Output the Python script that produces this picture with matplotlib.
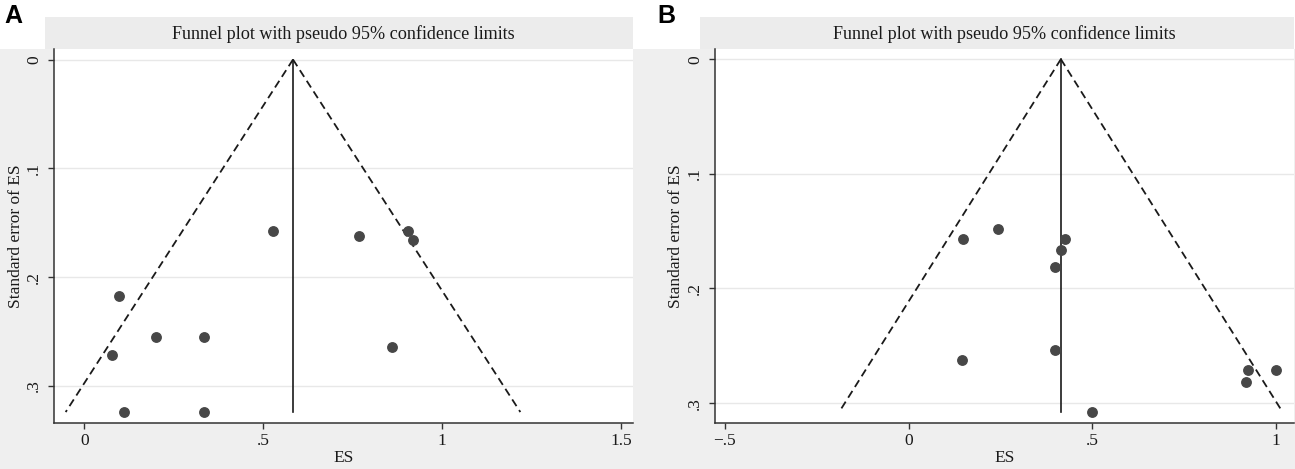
import matplotlib
matplotlib.use("Agg")
import matplotlib.pyplot as plt
from matplotlib.patches import Rectangle
import numpy as np

# ---------------- data ----------------
a_es = [0.526, 0.766, 0.903, 0.919, 0.097, 0.201, 0.334, 0.859, 0.077, 0.111, 0.334]
a_se = [0.158, 0.162, 0.158, 0.166, 0.217, 0.255, 0.255, 0.264, 0.272, 0.324, 0.324]
a_pooled = 0.583

b_es = [0.244, 0.149, 0.424, 0.415, 0.398, 0.398, 0.145, 0.924, 1.000, 0.918, 0.500]
b_se = [0.148, 0.157, 0.157, 0.166, 0.181, 0.254, 0.262, 0.271, 0.271, 0.282, 0.308]
b_pooled = 0.414

a_xticks = [0, 0.5, 1, 1.5]
a_xticklabels = ["0", ".5", "1", "1.5"]
b_xticks = [-0.5, 0, 0.5, 1]
b_xticklabels = ["\u2212.5", "0", ".5", "1"]
yticks = [0, 0.1, 0.2, 0.3]
yticklabels = ["0", ".1", ".2", ".3"]

title = "Funnel plot with pseudo 95% confidence limits"
xlabel = "ES"
ylabel = "Standard error of ES"
panel_labels = ["A", "B"]

# ---------------- layout ----------------
W, H = 1295, 469
BG = "#efefef"
SERIF = "Liberation Serif"

fig = plt.figure(figsize=(W / 100, H / 100), dpi=100)
fig.patch.set_facecolor(BG)


def fx(px):
    return px / W


def fy(py):
    return 1 - py / H


def frect(x0, y0, x1, y1, color):
    fig.add_artist(Rectangle((fx(x0), fy(y1)), fx(x1) - fx(x0), fy(y0) - fy(y1),
                             transform=fig.transFigure, facecolor=color,
                             edgecolor="none", zorder=-5))


# white areas around panel letters
frect(0, 0, W, 17, "white")
frect(0, 0, 45, 49, "white")
frect(633, 0, 700, 49, "white")
frect(1294, 0, W, 49, "white")

panels = [
    dict(es=a_es, se=a_se, pooled=a_pooled, xticks=a_xticks, xtl=a_xticklabels,
         left=54, right=633, xlim=(-0.0846, 1.5327), ylim=(0.3336, -0.0097),
         letter_x=4, title_box=(45, 633), ylab_x=16),
    dict(es=b_es, se=b_se, pooled=b_pooled, xticks=b_xticks, xtl=b_xticklabels,
         left=715, right=1294, xlim=(-0.527, 1.0483), ylim=(0.3169, -0.0089),
         letter_x=657, title_box=(700, 1294), ylab_x=676),
]

top, bottom = 49, 422.5

for i, p in enumerate(panels):
    ax = fig.add_axes([fx(p["left"]), fy(bottom), fx(p["right"]) - fx(p["left"]),
                       fy(top) - fy(bottom)])
    ax.set_facecolor("white")
    ax.set_xlim(*p["xlim"])
    ax.set_ylim(*p["ylim"])

    # grid
    for yt in yticks:
        ax.axhline(yt, color="#e8e8e8", lw=1.0, zorder=0)

    maxse = max(p["se"])
    pooled = p["pooled"]
    se_line = np.array([0.0, maxse])
    ax.plot(pooled - 1.96 * se_line, se_line, color="#1a1a1a", lw=1.3,
            linestyle=(0, (4.4, 2.6)), zorder=2)
    ax.plot(pooled + 1.96 * se_line, se_line, color="#1a1a1a", lw=1.3,
            linestyle=(0, (4.4, 2.6)), zorder=2)
    ax.plot([pooled, pooled], [0, maxse], color="#1a1a1a", lw=1.2, zorder=2)

    ax.plot(p["es"], p["se"], linestyle="none", marker="o", markersize=6.8,
            markerfacecolor="#474747", markeredgecolor="#474747", zorder=3)

    for s in ["top", "right"]:
        ax.spines[s].set_visible(False)
    for s in ["left", "bottom"]:
        ax.spines[s].set_color("#333333")
        ax.spines[s].set_linewidth(1.1)

    ax.set_xticks(p["xticks"])
    ax.set_xticklabels(p["xtl"], fontfamily=SERIF, fontsize=12.5)
    ax.set_yticks(yticks)
    ax.set_yticklabels(yticklabels, fontfamily=SERIF, fontsize=12.5,
                       rotation=90, va="center")
    ax.tick_params(axis="both", direction="out", length=4.5, width=1.0,
                   color="#333333", labelcolor="#1a1a1a")
    ax.tick_params(axis="x", pad=3)
    ax.tick_params(axis="y", pad=4)

    # title box
    tb0, tb1 = p["title_box"]
    frect(tb0, 17, tb1, 49, "#ececec")
    cx = (p["left"] + p["right"]) / 2
    fig.text(fx(cx), fy(34), title, ha="center", va="center",
             fontfamily=SERIF, fontsize=13.1, color="#1a1a1a")

    # axis labels
    fig.text(fx(cx), fy(458), xlabel, ha="center", va="center",
             fontfamily=SERIF, fontsize=12.5, color="#1a1a1a")
    fig.text(fx(p["ylab_x"]), fy((top + bottom) / 2), ylabel, ha="center",
             va="center", rotation=90, fontfamily=SERIF, fontsize=12.5,
             color="#1a1a1a")

    # panel letter
    fig.text(fx(p["letter_x"]), fy(16), panel_labels[i], ha="left", va="center",
             fontfamily="Liberation Sans", fontweight="bold", fontsize=18,
             color="black")

fig.savefig("out.png", dpi=100, facecolor=fig.get_facecolor())
